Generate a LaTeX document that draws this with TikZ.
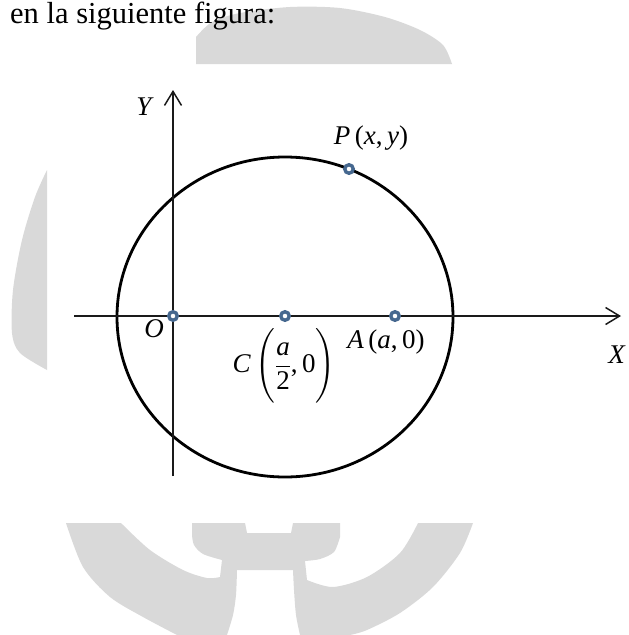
\documentclass[tikz,border=0pt]{standalone}
\usepackage{amsmath}
\usepackage{fontspec}
\setmainfont{Liberation Serif}
\usepackage{tikz}
\usetikzlibrary{arrows.meta}
\definecolor{wmgrey}{HTML}{D9D9D9}
\definecolor{ptblue}{HTML}{46688F}
\definecolor{axblack}{HTML}{1A1A1A}
\tikzset{
  watermark/.style = {fill=wmgrey, draw=none},
  axis/.style      = {-{Straight Barb[length=14pt,width=17pt]}, draw=axblack,
                      line width=1.5pt},
  curve/.style     = {draw=black, line width=2.8pt},
  pt/.style        = {circle, draw=ptblue, fill=white, line width=3.4pt,
                      minimum size=8.5pt, inner sep=0pt},
  lbl/.style       = {font=\fontsize{27}{32}\selectfont, inner sep=0pt},
  caption/.style   = {font=\fontsize{30.5}{36}\selectfont, inner sep=0pt,
                      anchor=base west},
}

\begin{document}
\begin{tikzpicture}[x=1pt, y=-1pt]
  \useasboundingbox (0,0) rectangle (629,635);

  % ---------- watermark ---------------------------------------------------
  \fill[watermark] (196,64) -- (196,37)
    -- plot[smooth] coordinates {(196,37) (212,22) (240,13) (290,7) (340,8)
       (385,17) (420,30) (443,45) (452,64)} -- cycle;
  \fill[watermark] (47,170)
    -- plot[smooth] coordinates {(47,170) (35,197) (22,240) (13,290) (12,333)
       (20,353) (47,370)} -- cycle;
  \fill[watermark] (66,523) -- (121,523)
    -- plot[smooth] coordinates {(121,523) (150,550) (183,570) (207,578) (220,577)}
    -- (222,560)
    -- plot[smooth] coordinates {(222,560) (203,554) (194,545) (192,535)}
    -- (192,523) -- (245,523) -- (247,533) -- (291,533) -- (293,523)
    -- (340,523) -- (340,537)
    -- plot[smooth] coordinates {(340,537) (334,552) (320,559) (305,561)}
    -- (307,580)
    -- plot[smooth] coordinates {(307,580) (333,587) (367,577) (400,553) (418,523)}
    -- (473,523)
    -- plot[smooth] coordinates {(473,523) (460,553) (433,587) (400,613) (367,630)
       (350,635)}
    -- (300,635)
    -- plot[smooth] coordinates {(300,635) (296,615) (294,590) (293,570)}
    -- (237,570)
    -- plot[smooth] coordinates {(237,570) (236,595) (233,615) (227,635)}
    -- (177,635)
    -- plot[smooth] coordinates {(177,635) (143,617) (110,597) (83,567) (66,523)}
    -- cycle;

  % ---------- caption line ------------------------------------------------
  \node[caption] (cap) at (10,23) {en la siguiente figura:};

  % ---------- axes and circle ---------------------------------------------
  \coordinate (xl) at (74,316);
  \coordinate (xr) at (621,316);
  \coordinate (yb) at (173,476);
  \coordinate (yt) at (173,90);
  \coordinate (ctr) at (285,317);

  \draw[curve] (ctr) ellipse [x radius=168pt, y radius=160pt];
  \draw[axis] (xl) -- (xr);
  \draw[axis] (yb) -- (yt);

  % ---------- points ------------------------------------------------------
  \node[pt] (O) at (173,316) {};
  \node[pt] (C) at (285,316) {};
  \node[pt] (A) at (395,316) {};
  \node[pt] (P) at (349,169) {};

  % ---------- labels ------------------------------------------------------
  \node[lbl] (ylbl) at (145,107) {\textit{Y}};
  \node[lbl] (xlbl) at (617,355) {\textit{X}};
  \node[lbl] (olbl) at (154,329) {\textit{O}};
  \node[lbl] (plbl) at (371,138) {\textit{P}\,(\textit{x},\,\textit{y})};
  \node[lbl] (albl) at (386,342) {\textit{A}\,(\textit{a},\,0)};
  \node[lbl] (clbl) at (284,366)
    {\textit{C}\,$\Biggl(\dfrac{\textit{a}}{\text{2}}\text{,\,0}\Biggr)$};

\end{tikzpicture}
\end{document}
